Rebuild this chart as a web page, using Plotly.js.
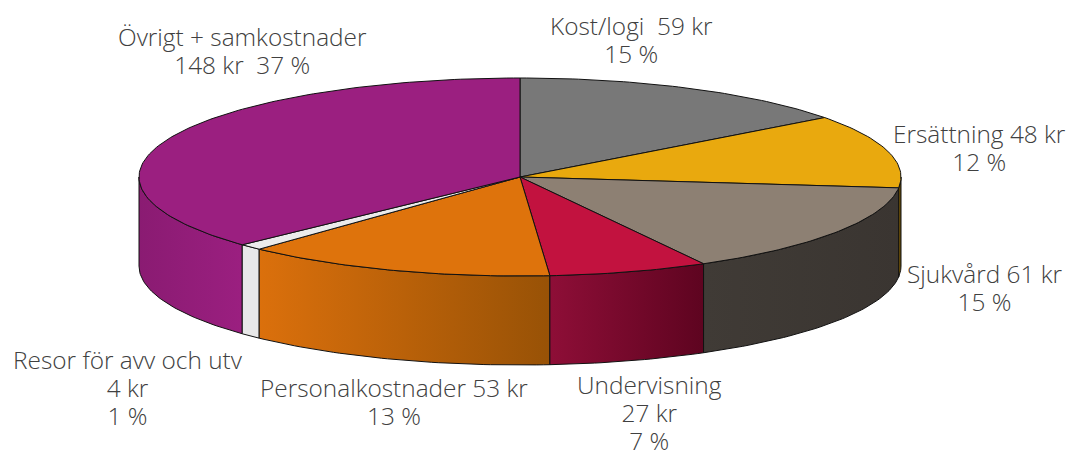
<!DOCTYPE html>
<html><head><meta charset="utf-8">
<script src="https://cdn.plot.ly/plotly-3.0.1.min.js"></script>
<style>html,body{margin:0;padding:0;background:#fff;overflow:hidden}</style>
</head><body><div id="chart" style="width:1070px;height:450px"></div>
<script>
const categories = ["Kost/logi","Ersättning","Sjukvård","Undervisning","Personalkostnader","Resor för avv och utv","Övrigt + samkostnader"];
const values = [59,48,61,27,53,4,148];
const labelText = ["Kost/logi  59 kr<br>15 %","Ersättning 48 kr<br>12 %","Sjukvård 61 kr<br>15 %","Undervisning<br>27 kr<br>7 %","Personalkostnader 53 kr<br>13 %","Resor för avv och utv<br>4 kr<br>1 %","Övrigt + samkostnader<br>148 kr  37 %"];
const labelX = [631,979,984.5,649,393.5,127.5,242];
const labelY = [26,134,274,384,388,359,37];
const lineGap = 28, fontSize = 24.4, plotlyLineHeight = 1.3;
const topColors = ["#787878","#E9A90E","#8D8073","#C2123F","#DE730C","#EBEBEB","#9B1F80"];
const wallLeft = ["#5a5a5a","#7a5a08","#403B36","#8E0E37","#DB700C","#E8E8E8","#8A1B72"];
const wallRight = ["#5a5a5a","#5a4406","#3A3531","#5E0420","#985206","#E8E8E8","#9B1F80"];
const cx=520, cy=177, rx=381, ry=99, depth=89, outline="#111111";

const total = values.reduce((a,b)=>a+b,0);
const rad = d=>d*Math.PI/180;
const px = (a)=>cx+rx*Math.sin(rad(a));
const py = (a,dz)=>cy-ry*Math.cos(rad(a))+(dz||0);
function arc(a0,a1,dz){const xs=[],ys=[];const n=Math.max(2,Math.ceil((a1-a0)));
  for(let i=0;i<=n;i++){const a=a0+(a1-a0)*i/n;xs.push(px(a));ys.push(py(a,dz));}return [xs,ys];}

const walls=[],tops=[];
let acc=0;
values.forEach((v,i)=>{
  const a0=acc/total*360; acc+=v; const a1=acc/total*360;
  const [tx,ty]=arc(a0,a1,0);
  tops.push({type:"scatter",mode:"lines",name:categories[i],x:[cx,...tx,cx],y:[cy,...ty,cy],fill:"toself",
    fillcolor:topColors[i],line:{color:outline,width:1},hoverinfo:"name"});
  const w0=Math.max(a0,90),w1=Math.min(a1,270);
  if(w1>w0){
    const [ax,ay]=arc(w0,w1,0);const [bx,by]=arc(w0,w1,depth);
    walls.push({type:"scatter",mode:"lines",name:categories[i],
      x:[...ax,...bx.slice().reverse(),ax[0]],y:[...ay,...by.slice().reverse(),ay[0]],fill:"toself",
      fillgradient:{type:"horizontal",colorscale:[[0,wallLeft[i]],[1,wallRight[i]]]},
      line:{color:outline,width:1},hoverinfo:"name"});
  }
});
walls.reverse();
const annotations=labelText.map((t,i)=>{
  const extra=t.split("<br>").length-1;
  return {x:labelX[i],y:labelY[i]+extra*fontSize*plotlyLineHeight/2,xref:"x",yref:"y",text:t,showarrow:false,align:"center",
    xanchor:"center",yanchor:"middle",font:{family:"Open Sans, sans-serif",size:fontSize,weight:300,color:"#404040"}};
});
const layout={width:1070,height:450,margin:{l:0,r:0,t:0,b:0},showlegend:false,paper_bgcolor:"#fff",plot_bgcolor:"#fff",
  xaxis:{range:[0,1070],visible:false,fixedrange:true},
  yaxis:{range:[450,0],visible:false,fixedrange:true},
  annotations
};
Plotly.newPlot("chart",[...walls,...tops],layout,{staticPlot:true,displayModeBar:false}).then(()=>{
  document.querySelectorAll("#chart text.annotation-text").forEach(el=>{
    el.querySelectorAll("tspan.line").forEach((ts,k)=>ts.setAttribute("dy",(k*lineGap)+"px"));
  });
});
</script></body></html>
